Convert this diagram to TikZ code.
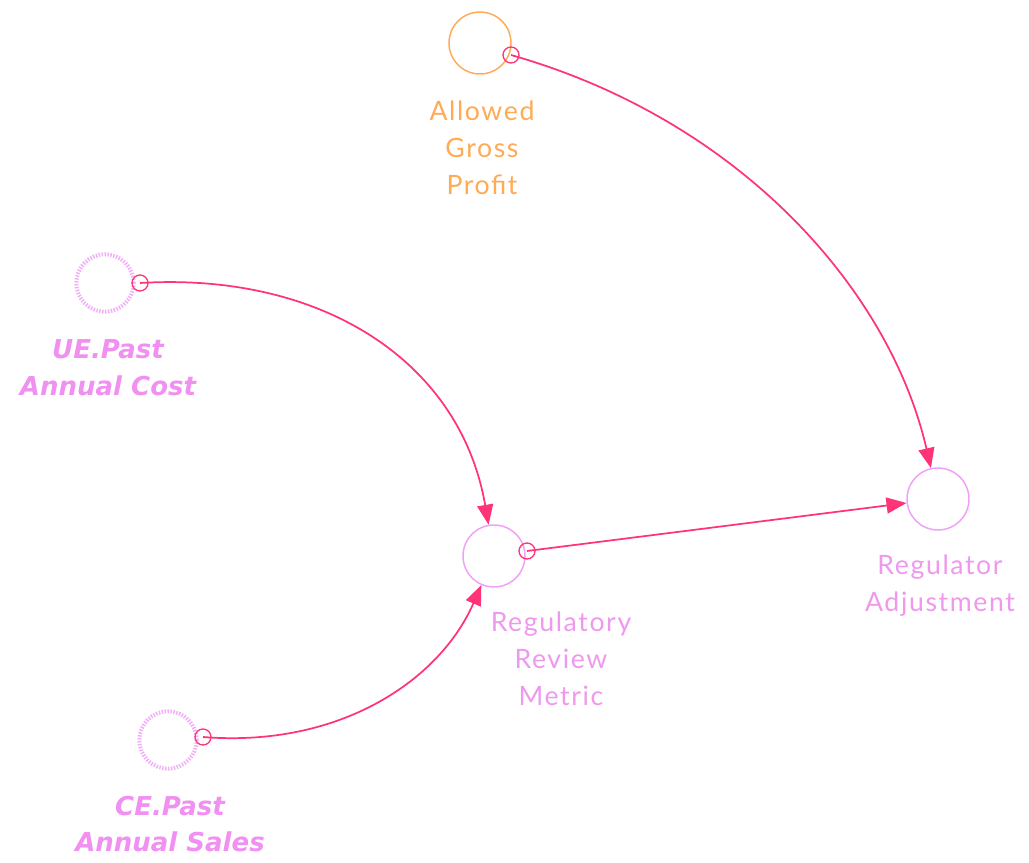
\documentclass[tikz,border=0pt]{standalone}
\usepackage{fontspec}
\setmainfont{Lato}[LetterSpace=6]
\newfontfamily\ghostfont{DejaVu Sans}
\usetikzlibrary{arrows.meta}
\definecolor{linkred}{HTML}{FF3377}
\definecolor{varpink}{HTML}{F0A0F8}
\definecolor{txtpink}{HTML}{EE99EE}
\definecolor{ghostpink}{HTML}{F090F0}
\definecolor{varorange}{HTML}{FFAA55}
\tikzset{
  var/.style={circle, draw=varpink, line width=1.1pt, minimum size=46.5pt, inner sep=0pt},
  ghost/.style={circle, draw=varpink!85, line width=3pt, dash pattern=on 1.1pt off 1.1pt, minimum size=43pt, inner sep=0pt},
  origin/.style={circle, draw=linkred, line width=1pt, minimum size=12pt, inner sep=0pt},
  lbl/.style={align=center, font=\fontsize{20}{27.75}\selectfont, text=txtpink},
  ghostlbl/.style={align=center, font=\ghostfont\bfseries\itshape\fontsize{19.5}{27.5}\selectfont, text=ghostpink},
  link/.style={draw=linkred, line width=1.3pt, -{Triangle[length=15pt, width=12pt]}}
}
\begin{document}
\begin{tikzpicture}[x=0.75pt, y=-0.75pt]
\useasboundingbox (0,0) rectangle (1029,863);
% variables
\node[var, draw=varorange] (agp) at (480,43) {};
\node[ghost] (ue) at (105,283) {};
\node[ghost] (ce) at (168,740) {};
\node[var] (rrm) at (494,556) {};
\node[var] (ra) at (938,499) {};
% labels
\node[lbl, text=varorange] (agpl) at (482,148) {Allowed\\Gross\\Profit};
\node[ghostlbl] (uel) at (108,368) {UE.Past\\Annual Cost};
\node[ghostlbl] (cel) at (170,824) {CE.Past\\Annual Sales};
\node[lbl] (rrml) at (561,659) {Regulatory\\Review\\Metric};
\node[lbl] (ral) at (940,586) {Regulator\\Adjustment};
% link origins
\node[origin] (agpo) at (511,55) {};
\node[origin] (ueo) at (140,283) {};
\node[origin] (ceo) at (203,737) {};
\node[origin] (rrmo) at (527,551) {};
% links
\draw[link] (agpo.center) .. controls (740,120) and (890,290) .. (ra);
\draw[link] (ueo.center) .. controls (320,272) and (460,360) .. (rrm);
\draw[link] (ceo.center) .. controls (340,748) and (440,680) .. (rrm);
\draw[link] (rrmo.center) -- (ra);
\end{tikzpicture}
\end{document}
